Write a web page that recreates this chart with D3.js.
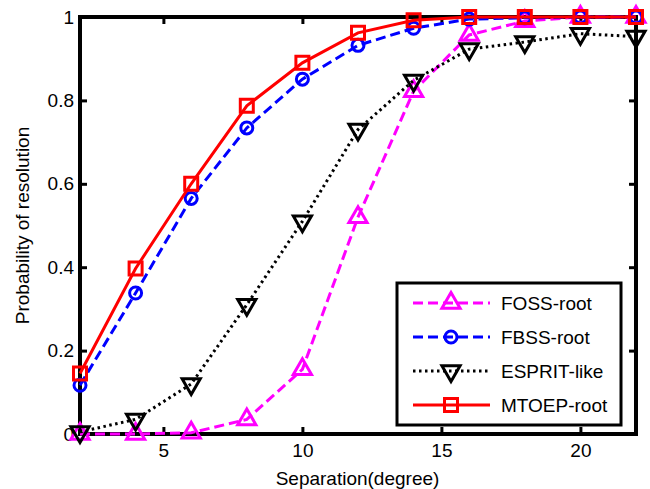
<!DOCTYPE html>
<html>
<head>
<meta charset="utf-8">
<script src="https://cdn.jsdelivr.net/npm/d3@7"></script>
<style>
  body { margin: 0; background: #fff; }
  text { font-family: "Liberation Sans", Arial, sans-serif; }
</style>
</head>
<body>
<svg id="chart" width="650" height="489"></svg>
<script>
// Separation in degrees
const separation = [2, 4, 6, 8, 10, 12, 14, 16, 18, 20, 22];
// Probability of resolution per method
const fossRoot = [0, 0, 0.003, 0.035, 0.155, 0.52, 0.822, 0.957, 0.99, 1, 1];
const fbssRoot = [0.117, 0.338, 0.565, 0.734, 0.851, 0.932, 0.973, 0.995, 0.998, 1, 1];
const espritLike = [0.005, 0.035, 0.12, 0.31, 0.51, 0.73, 0.848, 0.923, 0.94, 0.96, 0.953];
const mtoepRoot = [0.145, 0.397, 0.6, 0.787, 0.89, 0.962, 0.992, 1, 1, 1, 1];
const xTicks = [5, 10, 15, 20];
const yTicks = [0, 0.2, 0.4, 0.6, 0.8, 1];

const seriesList = [
  {name: 'FOSS-root', values: fossRoot, color: '#ff00ff', dash: '10,5', marker: 'up'},
  {name: 'FBSS-root', values: fbssRoot, color: '#0000ff', dash: '10,5', marker: 'circle'},
  {name: 'ESPRIT-like', values: espritLike, color: '#000000', dash: '2.5,3.5', marker: 'down'},
  {name: 'MTOEP-root', values: mtoepRoot, color: '#ff0000', dash: null, marker: 'square'}
];

const fontSize = 19;
const svg = d3.select('#chart');
const plotLeft = 80, plotRight = 636, plotTop = 17, plotBottom = 434;

const x = d3.scaleLinear().domain([2, 22]).range([plotLeft, plotRight]);
const y = d3.scaleLinear().domain([0, 1]).range([plotBottom, plotTop]);

// Axes: ticks point inwards on all four sides
function styleAxis(g) {
  g.select('.domain').remove();
  g.selectAll('.tick line').attr('stroke', '#000').attr('stroke-width', 3);
  g.selectAll('.tick text').attr('font-size', fontSize).attr('fill', '#000');
}

svg.append('g')
  .attr('transform', 'translate(0,' + plotBottom + ')')
  .call(d3.axisBottom(x).tickValues(xTicks).tickFormat(d3.format('d'))
    .tickSizeInner(-7).tickSizeOuter(0).tickPadding(10))
  .call(styleAxis);

svg.append('g')
  .attr('transform', 'translate(0,' + plotTop + ')')
  .call(d3.axisTop(x).tickValues(xTicks).tickFormat('')
    .tickSizeInner(-7).tickSizeOuter(0))
  .call(styleAxis);

svg.append('g')
  .attr('transform', 'translate(' + plotLeft + ',0)')
  .call(d3.axisLeft(y).tickValues(yTicks).tickFormat(d => d === 0 || d === 1 ? d3.format('d')(d) : d3.format('.1f')(d))
    .tickSizeInner(-7).tickSizeOuter(0).tickPadding(6))
  .call(styleAxis);

svg.append('g')
  .attr('transform', 'translate(' + plotRight + ',0)')
  .call(d3.axisRight(y).tickValues(yTicks).tickFormat('')
    .tickSizeInner(-7).tickSizeOuter(0))
  .call(styleAxis);

// Axes box
svg.append('rect')
  .attr('x', plotLeft).attr('y', plotTop)
  .attr('width', plotRight - plotLeft).attr('height', plotBottom - plotTop)
  .attr('fill', 'none').attr('stroke', '#000').attr('stroke-width', 4);

// Axis titles
svg.append('text')
  .attr('x', (plotLeft + plotRight) / 2 - 0.5).attr('y', 485)
  .attr('text-anchor', 'middle').attr('font-size', fontSize)
  .text('Separation(degree)');

svg.append('text')
  .attr('transform', 'translate(29,' + (plotTop + plotBottom) / 2 + ') rotate(-90)')
  .attr('text-anchor', 'middle').attr('font-size', fontSize)
  .text('Probability of resolution');

// Marker shapes
function markerPath(type) {
  const r = 10.5;
  if (type === 'up') {
    return 'M0,' + (-r) + 'L' + (0.866 * r) + ',' + (r / 2) + 'L' + (-0.866 * r) + ',' + (r / 2) + 'Z';
  }
  if (type === 'down') {
    return 'M0,' + r + 'L' + (0.866 * r) + ',' + (-r / 2) + 'L' + (-0.866 * r) + ',' + (-r / 2) + 'Z';
  }
  if (type === 'square') {
    return 'M-6.5,-6.5H6.5V6.5H-6.5Z';
  }
  return d3.symbol().type(d3.symbolCircle).size(Math.PI * 6 * 6)();
}

function drawMarker(g, s, px, py) {
  g.append('path')
    .attr('transform', 'translate(' + px + ',' + py + ')')
    .attr('d', markerPath(s.marker))
    .attr('fill', 'none')
    .attr('stroke', s.color)
    .attr('stroke-width', 3);
}

const line = d3.line()
  .x(d => x(d[0]))
  .y(d => y(d[1]));

// Series lines and markers
for (const s of seriesList) {
  const pts = separation.map((v, i) => [v, s.values[i]]);
  const g = svg.append('g');
  g.append('path')
    .datum(pts)
    .attr('d', line)
    .attr('fill', 'none')
    .attr('stroke', s.color)
    .attr('stroke-width', 3)
    .attr('stroke-dasharray', s.dash);
  for (const p of pts) {
    drawMarker(g, s, x(p[0]), y(p[1]));
  }
}

// Legend
const legend = svg.append('g');
legend.append('rect')
  .attr('x', 397).attr('y', 283)
  .attr('width', 224).attr('height', 142)
  .attr('fill', '#fff').attr('stroke', '#000').attr('stroke-width', 3);

seriesList.forEach((s, i) => {
  const ly = 303 + i * 34;
  legend.append('line')
    .attr('x1', 413).attr('x2', 490)
    .attr('y1', ly).attr('y2', ly)
    .attr('stroke', s.color).attr('stroke-width', 3)
    .attr('stroke-dasharray', s.dash);
  drawMarker(legend, s, 451, ly);
  legend.append('text')
    .attr('x', 501).attr('y', ly + 7)
    .attr('font-size', fontSize)
    .text(s.name);
});
</script>
</body>
</html>
